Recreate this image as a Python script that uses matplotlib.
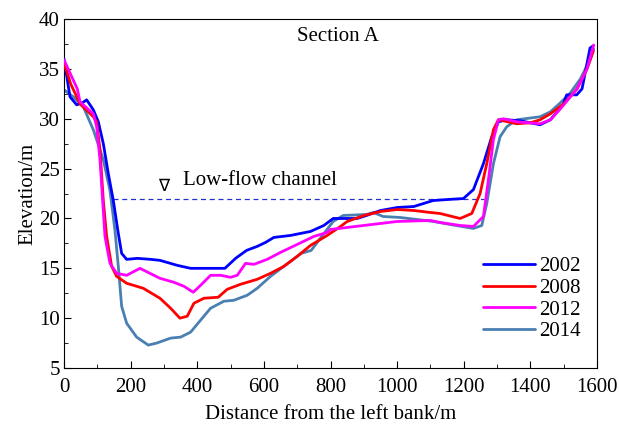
import numpy as np
import matplotlib
matplotlib.use("Agg")
import matplotlib.pyplot as plt
from matplotlib.ticker import MultipleLocator

plt.rcParams['font.family'] = ['Liberation Serif', 'DejaVu Serif']

# survey profiles of Section A (distance from left bank / elevation, m)
x_2002 = [0, 18, 38, 55, 68, 88, 103, 118, 133, 148, 163, 173, 188, 220, 260, 288, 340, 380, 430, 483,
          515, 548, 580, 605, 630, 680, 740, 780, 808, 850, 880, 908, 950, 1000, 1050, 1108,
          1150, 1199, 1229, 1259, 1284, 1304, 1329, 1370, 1400, 1429, 1460, 1498, 1509, 1539, 1555, 1579, 1588]
y_2002 = [36.0, 32.2, 31.4, 31.6, 31.9, 30.9, 29.7, 27.5, 24.5, 21.8, 18.5, 16.5, 15.9, 16.0, 15.9, 15.8, 15.3, 15.0, 15.0, 15.0,
          16.0, 16.8, 17.2, 17.6, 18.1, 18.3, 18.7, 19.3, 20.0, 20.0, 20.0, 20.3, 20.8, 21.1, 21.2, 21.8,
          21.9, 22.0, 22.9, 25.5, 28.2, 29.7, 29.9, 29.8, 29.6, 29.4, 29.9, 31.4, 32.4, 32.4, 33.0, 37.1, 37.3]

x_2008 = [0, 20, 48, 88, 98, 108, 118, 128, 143, 158, 188, 238, 288, 320, 348, 370, 390, 420, 463, 490,
          530, 580, 620, 660, 700, 740, 790, 830, 850, 900, 950, 1000, 1050, 1100, 1129, 1189,
          1224, 1249, 1269, 1289, 1304, 1359, 1400, 1429, 1460, 1500, 1540, 1570, 1589]
y_2008 = [35.6, 33.5, 31.5, 30.2, 29.7, 26.9, 21.8, 18.2, 15.2, 14.2, 13.5, 13.0, 12.0, 11.0, 10.0, 10.2, 11.5, 12.0, 12.1, 12.9,
          13.4, 13.9, 14.5, 15.2, 16.2, 17.3, 18.3, 19.2, 19.7, 20.3, 20.7, 20.9, 20.8, 20.6, 20.5, 20.0,
          20.5, 22.5, 25.5, 28.9, 29.9, 29.5, 29.6, 29.9, 30.5, 31.5, 33.0, 35.0, 36.8]

x_2012 = [0, 40, 48, 88, 98, 108, 116, 123, 138, 158, 188, 228, 258, 288, 330, 360, 388, 410, 440, 470, 500,
          520, 545, 570, 610, 650, 700, 750, 790, 800, 900, 1000, 1100, 1129, 1189, 1229,
          1259, 1274, 1289, 1304, 1319, 1359, 1429, 1460, 1490, 1540, 1570, 1590]
y_2012 = [35.9, 33.0, 31.7, 30.5, 29.2, 25.9, 21.8, 18.2, 15.5, 14.5, 14.3, 15.0, 14.5, 14.0, 13.6, 13.2, 12.6, 13.3, 14.3, 14.3, 14.1,
          14.3, 15.5, 15.4, 15.9, 16.6, 17.4, 18.2, 18.6, 18.9, 19.3, 19.7, 19.8, 19.6, 19.3, 19.2,
          20.2, 23.9, 27.9, 29.9, 30.0, 29.7, 29.5, 29.9, 31.0, 33.0, 35.0, 37.4]

x_2014 = [0, 28, 58, 88, 118, 138, 153, 163, 173, 188, 218, 253, 278, 320, 350, 380, 410, 440,
          480, 510, 550, 580, 620, 660, 712, 742, 769, 808, 838, 908, 929, 958, 1009, 1109,
          1159, 1229, 1254, 1269, 1289, 1309, 1329, 1359, 1429, 1460, 1490, 1520, 1550, 1580, 1590]
y_2014 = [32.9, 32.2, 31.2, 28.9, 25.9, 22.8, 18.8, 15.2, 11.2, 9.5, 8.1, 7.3, 7.5, 8.0, 8.1, 8.6, 9.8, 11.0,
          11.7, 11.8, 12.3, 13.0, 14.2, 15.2, 16.5, 16.8, 18.0, 19.7, 20.3, 20.4, 20.6, 20.2, 20.1, 19.7,
          19.4, 19.0, 19.3, 21.5, 25.5, 28.2, 29.2, 29.9, 30.2, 30.7, 31.6, 32.6, 34.0, 36.0, 37.0]

years = ['2002', '2008', '2012', '2014']
colors = ['#0000ff', '#ff0000', '#ff00ff', '#4a7fb2']
xs = [x_2002, x_2008, x_2012, x_2014]
ys = [y_2002, y_2008, y_2012, y_2014]
zorders = [3, 4, 5, 2]

low_flow_x = [147, 1260]
low_flow_y = 22.0

fig = plt.figure(figsize=(6.19, 4.24), dpi=100)
ax = fig.add_axes([0.1034, 0.132, 0.8611, 0.823])

for x, y, c, lab, z in zip(xs, ys, colors, years, zorders):
    ax.plot(x, y, color=c, lw=2.0, label=lab, zorder=z, solid_capstyle='round', solid_joinstyle='round')

ax.plot(low_flow_x, [low_flow_y, low_flow_y], color='#2233cc', lw=0.9, ls=(0, (4, 3)), zorder=1)
ax.text(300, 23.3, '\u2207', fontsize=12, ha='center', va='center', family=['DejaVu Sans'])
ax.text(357, 23.8, 'Low-flow channel', fontsize=15, ha='left', va='center')
ax.text(823, 38.3, 'Section A', fontsize=15, ha='center', va='center')

ax.set_xlim(0, 1600)
ax.set_ylim(5, 40)
ax.xaxis.set_major_locator(MultipleLocator(200))
ax.xaxis.set_minor_locator(MultipleLocator(100))
ax.yaxis.set_major_locator(MultipleLocator(5))
ax.yaxis.set_minor_locator(MultipleLocator(2.5))
ax.tick_params(which='both', direction='in', labelsize=15, top=False, right=False)
ax.tick_params(which='major', length=5)
ax.tick_params(axis='y', which='major', pad=3)
ax.tick_params(axis='x', which='major', pad=7)
ax.tick_params(which='minor', length=3)
ax.set_xlabel('Distance from the left bank/m', fontsize=15, labelpad=6)
ax.set_ylabel('Elevation/m', fontsize=15, labelpad=1)

# red tick at 20 m on the left axis
for t in ax.yaxis.get_major_ticks():
    if abs(t.get_loc() - 20) < 1e-6:
        t.tick1line.set_color('red')
        t.tick1line.set_markeredgewidth(1.5)

ax.legend(loc='lower right', bbox_to_anchor=(0.997, 0.035), frameon=False, fontsize=15,
          handlelength=2.5, handletextpad=0.2, labelspacing=0.1, borderpad=0.2)

fig.savefig('out.png', dpi=100)
